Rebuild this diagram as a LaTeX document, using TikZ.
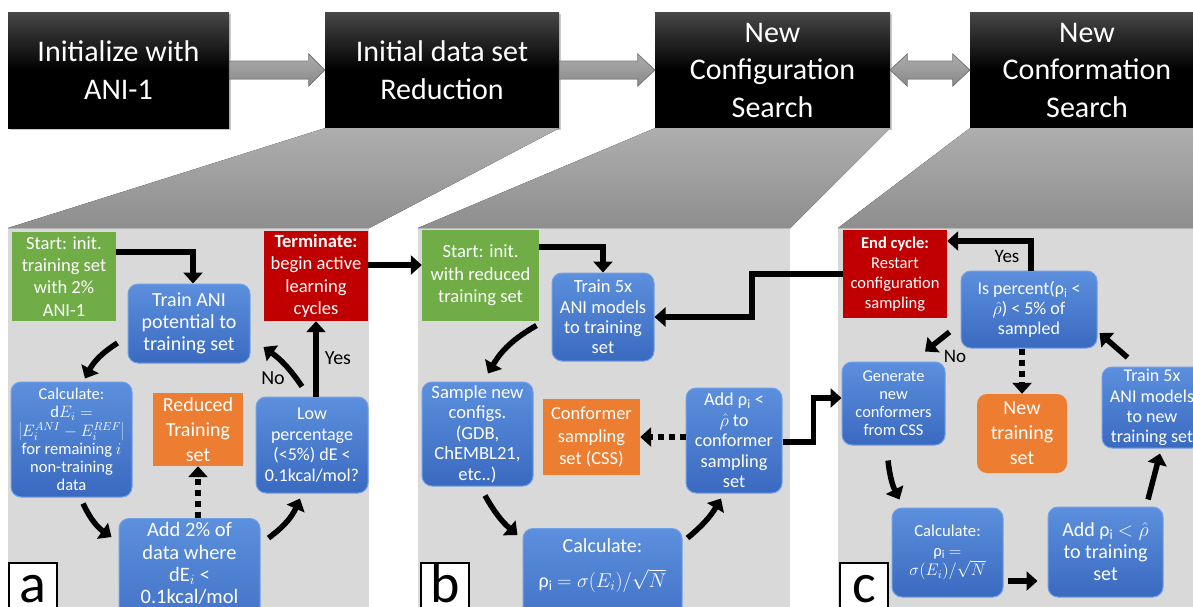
\RequirePackage{fix-cm}
\documentclass[tikz,border=0pt]{standalone}
\usepackage{fontspec}
\setmainfont{Carlito}
\usetikzlibrary{arrows.meta,calc,shadows}

\definecolor{panelgray}{HTML}{D9D9D9}
\definecolor{beamtop}{HTML}{AEAEAE}
\definecolor{beambot}{HTML}{8E8E8E}
\definecolor{ggreen}{HTML}{70AD47}
\definecolor{rred}{HTML}{C00000}
\definecolor{oorange}{HTML}{ED7D31}
\definecolor{bluetop}{HTML}{5C8FDD}
\definecolor{bluebot}{HTML}{3A6AC0}
\definecolor{blueedge}{HTML}{72A0E4}
\definecolor{arrtop}{HTML}{ABABAB}
\definecolor{arrbot}{HTML}{8A8A8A}
\definecolor{arredge}{HTML}{7A7A7A}

\newcommand{\fsz}[2]{\fontsize{#1}{#2}\selectfont}

\begin{document}
\begin{tikzpicture}[x=1pt,y=-1pt,
  topbox/.style={top color=black!72, bottom color=black, middle color=black, text=white, align=center, font=\fsz{30}{37.5}, inner sep=0pt, minimum height=116pt, drop shadow={shadow xshift=1.5pt, shadow yshift=-1.5pt, opacity=.35, fill=black!60}},
  blockarr/.style={top color=arrtop, bottom color=arrbot, draw=arredge, line width=0.8pt},
  panel/.style={fill=panelgray, anchor=north west, inner sep=0pt},
  beam/.style={top color=beamtop, bottom color=beambot},
  plainbox/.style={align=center, text=white, inner sep=2pt},
  bluebox/.style={plainbox, rounded corners=10pt, top color=bluetop, bottom color=bluebot, draw=blueedge, line width=1pt},
  greenbox/.style={plainbox, fill=ggreen},
  redbox/.style={plainbox, fill=rred},
  orangebox/.style={plainbox, fill=oorange},
  arr/.style={line width=5.5pt, -{Triangle[width=19pt,length=11pt]}},
  darr/.style={arr, dash pattern=on 6pt off 5pt},
  lab/.style={font=\fsz{20}{24}, inner sep=0pt},
  labc/.style={font=\fsz{19}{23}, inner sep=0pt},
  letterbox/.style={draw=black, line width=2pt, fill=white, anchor=north west, minimum width=48pt, minimum height=60pt, inner sep=0pt, font=\fsz{56}{60}, text height=39pt, text depth=21pt}
]
\useasboundingbox (0,0) rectangle (1193,606);
\clip (0,0) rectangle (1193,606);

% panels
\node[panel, minimum width=361pt, minimum height=380pt] (panelA) at (8,228) {};
\node[panel, minimum width=372pt, minimum height=380pt] (panelB) at (418,228) {};
\node[panel, minimum width=372pt, minimum height=380pt] (panelC) at (838,228) {};

% top boxes
\node[topbox, minimum width=221pt] (box1) at (118.5,70) {Initialize with\\ANI-1};
\node[topbox, minimum width=234pt] (box2) at (442,70) {Initial data set\\Reduction};
\node[topbox, minimum width=235pt] (box3) at (772.5,70) {New\\Configuration\\Search};
\node[topbox, minimum width=234pt] (box4) at (1087,70) {New\\Conformation\\Search};

% block arrows
\filldraw[blockarr] ([shift={(0,-9)}]box1.east) -- ([shift={(-16,-9)}]box2.west) -- ([shift={(-16,-16)}]box2.west) -- (box2.west) -- ([shift={(-16,16)}]box2.west) -- ([shift={(-16,9)}]box2.west) -- ([shift={(0,9)}]box1.east) -- cycle;
\filldraw[blockarr] ([shift={(0,-9)}]box2.east) -- ([shift={(-17,-9)}]box3.west) -- ([shift={(-17,-16)}]box3.west) -- (box3.west) -- ([shift={(-17,16)}]box3.west) -- ([shift={(-17,9)}]box3.west) -- ([shift={(0,9)}]box2.east) -- cycle;
\filldraw[blockarr] (box3.east) -- ([shift={(17,-16)}]box3.east) -- ([shift={(17,-9)}]box3.east) -- ([shift={(-17,-9)}]box4.west) -- ([shift={(-17,-16)}]box4.west) -- (box4.west) -- ([shift={(-17,16)}]box4.west) -- ([shift={(-17,9)}]box4.west) -- ([shift={(17,9)}]box3.east) -- ([shift={(17,16)}]box3.east) -- cycle;

% beams
\fill[beam] (box2.south west) -- (box2.south east) -- (panelA.north east) -- (panelA.north west) -- cycle;
\fill[beam] (box3.south west) -- (box3.south east) -- (panelB.north east) -- (panelB.north west) -- cycle;
\fill[beam] (box4.south west) -- (box4.south east) -- (panelC.north east) -- (panelC.north west) -- cycle;

% ---------- panel a ----------
\node[greenbox, minimum width=104pt, minimum height=89pt, font=\fsz{18.5}{22.2}] (startA) at (64,276.5) {Start: init.\\training set\\with 2\%\\ANI-1};
\node[bluebox, minimum width=122pt, minimum height=79pt, font=\fsz{20}{22.3}] (trainA) at (189,323.5) {Train ANI\\potential to\\training set};
\node[redbox, minimum width=104pt, minimum height=90pt, font=\fsz{18.6}{22.2}] (termA) at (316,276) {\textbf{Terminate:}\\begin active\\learning\\cycles};
\node[bluebox, minimum width=121pt, minimum height=115pt, font=\fsz{16.5}{18.3}] (calcA) at (71.5,439.5) {Calculate:\\$\mathrm{d}E_i=$\\$\left|E_i^{ANI}-E_i^{REF}\right|$\\for remaining $i$\\non-training\\data};
\node[orangebox, minimum width=90pt, minimum height=73pt, font=\fsz{20}{25}] (redA) at (198,429.5) {Reduced\\Training\\set};
\node[bluebox, minimum width=112pt, minimum height=96pt, font=\fsz{18}{20.5}] (lowA) at (312,445) {Low\\percentage\\(<5\%) $\mathrm{dE}$ <\\0.1kcal/mol?};
\node[bluebox, anchor=north, minimum width=141pt, inner ysep=4pt, font=\fsz{20.5}{22.3}] (addA) at (189.5,518) {Add 2\% of\\data where\\$\mathrm{dE}_i$ <\\0.1kcal/mol\\[20pt]\strut};

% ---------- panel b ----------
\node[greenbox, minimum width=117pt, minimum height=91pt, font=\fsz{18.6}{22.5}] (startB) at (480.5,275.5) {Start: init.\\with reduced\\training set};
\node[bluebox, minimum width=102pt, minimum height=88pt, font=\fsz{18.5}{20.3}] (trainB) at (603,317) {Train 5x\\ANI models\\to training\\set};
\node[bluebox, minimum width=111pt, minimum height=104pt, font=\fsz{18.6}{20.5}] (sampleB) at (477.5,434) {Sample new\\configs.\\(GDB,\\ChEMBL21,\\etc..)};
\node[orangebox, minimum width=97pt, minimum height=76pt, font=\fsz{18.4}{22.5}] (cssB) at (591.5,437) {Conformer\\sampling\\set (CSS)};
\node[bluebox, minimum width=96pt, minimum height=105pt, font=\fsz{18.3}{20.4}] (addB) at (734,440.5) {Add ρ\textsubscript{i} <\\$\hat{\rho}$ to\\conformer\\sampling\\set};
\node[bluebox, anchor=north, minimum width=159pt, inner ysep=10pt, font=\fsz{20}{24}] (calcB) at (602.5,528) {Calculate:\\[11pt]ρ\textsubscript{i} $=\sigma(E_i)/\sqrt{N}$\\[20pt]\strut};

% ---------- panel c ----------
\node[redbox, minimum width=104pt, minimum height=88pt, font=\fsz{16.5}{20.2}] (endC) at (895,274) {\textbf{End cycle:}\\Restart\\configuration\\sampling};
\node[bluebox, minimum width=136pt, minimum height=77pt, font=\fsz{18}{19.8}] (isC) at (1029,309.5) {Is percent(ρ\textsubscript{i} <\\$\hat{\rho}$) < 5\% of\\sampled};
\node[bluebox, minimum width=103pt, minimum height=83pt, font=\fsz{16.4}{18}] (genC) at (893.5,403.5) {Generate\\new\\conformers\\from CSS};
\node[orangebox, rounded corners=10pt, minimum width=90pt, minimum height=79pt, font=\fsz{20}{25}] (newC) at (1022,433.5) {New\\training\\set};
\node[bluebox, minimum width=100pt, minimum height=81pt, font=\fsz{18}{20.3}] (trainC) at (1152,407.5) {Train 5x\\ANI models\\to new\\training set};
\node[bluebox, minimum width=111pt, minimum height=89pt, font=\fsz{16.7}{19.5}] (calcC) at (947.5,552.5) {Calculate:\\ρ\textsubscript{i} $=$\\$\sigma(E_i)/\sqrt{N}$};
\node[bluebox, minimum width=115pt, minimum height=90pt, font=\fsz{20}{22}] (addC) at (1105.5,552) {Add ρ\textsubscript{i} $<\hat{\rho}$\\to training\\set};

% ---------- connectors ----------
\draw[arr] ([shift={(0,-24.5)}]startA.east) -| ([shift={(4,0)}]trainA.north);
\draw[arr] ([shift={(-10,19.5)}]trainA.west) to[bend right=15] ([shift={(13.5,-3)}]calcA.north);
\draw[arr] ([shift={(11.5,6)}]calcA.south) to[bend right=15] ([shift={(-7,19)}]addA.north west);
\draw[arr] ([shift={(8,20)}]addA.north east) to[bend right=15] ([shift={(-12,5)}]lowA.south);
\draw[darr] (addA.north -| redA.south) -- (redA.south);
\draw[arr] ([shift={(-10,-10)}]lowA.north) to[bend right=10] ([shift={(13,23.5)}]trainA.east);
\node[lab] (noA) at (273,378) {No};
\draw[arr] (lowA.north -| termA.south) -- (termA.south);
\node[lab] (yesA) at (338,358) {Yes};
\draw[arr] ([shift={(0,-11)}]termA.east) -- ([shift={(0,-10.5)}]startB.west);

\draw[arr] ([shift={(0,-28.5)}]startB.east) -| (trainB.north);
\draw[arr] (endC.west) -- ++(-91,0) |- (trainB.east);
\draw[arr] ([shift={(-15,-36)}]trainB.south west) to[bend right=15] ([shift={(10.5,-8)}]sampleB.north);
\draw[arr] ([shift={(7.5,9)}]sampleB.south) to[bend right=10] ([shift={(-5,7)}]calcB.north west);
\draw[arr] ([shift={(5,10)}]calcB.north east) to[bend right=10] ([shift={(-13,5)}]addB.south);
\draw[darr] (addB.west |- cssB.east) -- (cssB.east);
\draw[arr] ([shift={(0,1.5)}]addB.east) -- ++(31,0) |- ([shift={(0,-5.5)}]genC.west);

\draw[arr] ([shift={(2,0)}]isC.north) |- ([shift={(0,-33)}]endC.east);
\node[labc] (yesC) at (1007,256) {Yes};
\draw[arr] ([shift={(-11,22.5)}]isC.west) -- ([shift={(31.5,-10)}]genC.north);
\node[labc] (noC) at (955,356) {No};
\draw[darr] (isC.south -| newC.north) -- (newC.north);
\draw[arr] ([shift={(-5.5,15)}]genC.south) to[bend right=10] ([shift={(8,-8)}]calcC.north west);
\draw[arr] ([shift={(4,28.5)}]calcC.east) -- ([shift={(-10,29)}]addC.west);
\draw[arr] ([shift={(42.5,-7)}]addC.north) -- ([shift={(8,5)}]trainC.south);
\draw[arr] ([shift={(26,-9)}]trainC.north west) -- ([shift={(2,23.5)}]isC.east);

% letter boxes
\node[letterbox] (labA) at (8,562) {a};
\node[letterbox] (labB) at (420,562) {b};
\node[letterbox] (labC) at (839,562) {c};
\end{tikzpicture}
\end{document}
